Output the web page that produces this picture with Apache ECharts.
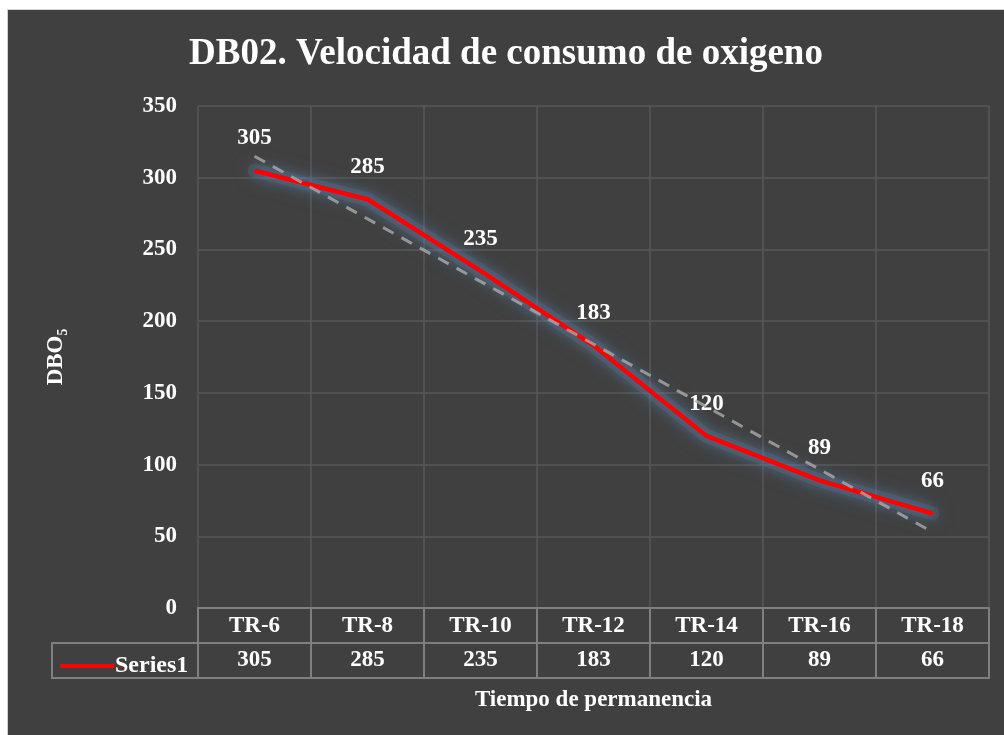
<!DOCTYPE html>
<html>
<head>
<meta charset="utf-8">
<script src="https://cdn.jsdelivr.net/npm/echarts@6/dist/echarts.min.js"></script>
<style>
html,body{margin:0;padding:0;background:#ffffff;width:1004px;height:735px;overflow:hidden;}
#wrap{position:absolute;left:7px;top:9px;width:997px;height:726px;border-left:1px solid #d0d0d0;border-top:1px solid #d0d0d0;box-sizing:border-box;}
#c{width:996px;height:725px;}
</style>
</head>
<body>
<div id="wrap"><div id="c"></div></div>
<script>
var categories = ['TR-6','TR-8','TR-10','TR-12','TR-14','TR-16','TR-18'];
var series1 = [305, 285, 235, 183, 120, 89, 66];
var trendEnds = [315, 53];
var yTicks = {min: 0, max: 350, interval: 50};

var FONT = "'Liberation Serif','Times New Roman',serif";
var FS = 23;
var GRID_COLOR = '#575757';
var TABLE_COLOR = '#7f7f7f';

var chart = echarts.init(document.getElementById('c'));
var option = {
  backgroundColor: '#404040',
  animation: false,
  title: {
    text: 'DB02. Velocidad de consumo de oxigeno',
    left: 'center',
    top: 21,
    textStyle: {color: '#ffffff', fontFamily: FONT, fontWeight: 'bold', fontSize: 37}
  },
  legend: {
    data: ['Series1'],
    left: 47,
    top: 639,
    icon: 'rect',
    itemWidth: 54,
    itemHeight: 4,
    itemGap: 0,
    textStyle: {color: '#ffffff', fontFamily: FONT, fontWeight: 'bold', fontSize: 24, padding: [0,0,0,-4]}
  },
  grid: {left: 190, right: 15, top: 96, bottom: 127, containLabel: false},
  xAxis: [
    {
      type: 'category', data: categories, boundaryGap: true, position: 'bottom',
      axisLine: {show: true, lineStyle: {color: TABLE_COLOR, width: 2}},
      axisTick: {show: true, length: 70, interval: 0, lineStyle: {color: TABLE_COLOR, width: 2}},
      axisLabel: {color: '#ffffff', fontFamily: FONT, fontWeight: 'bold', fontSize: FS, margin: 7, interval: 0},
      splitLine: {show: true, interval: 0, lineStyle: {color: GRID_COLOR, width: 1.5}}
    },
    {
      type: 'category', data: series1.map(String), boundaryGap: true, position: 'bottom', offset: 35,
      axisLine: {show: true, lineStyle: {color: TABLE_COLOR, width: 2}},
      axisTick: {show: false},
      axisLabel: {color: '#ffffff', fontFamily: FONT, fontWeight: 'bold', fontSize: FS, margin: 6, interval: 0},
      splitLine: {show: false}
    },
    {
      type: 'category', data: categories, boundaryGap: true, position: 'bottom', offset: 70,
      axisLine: {show: true, lineStyle: {color: TABLE_COLOR, width: 2}},
      axisTick: {show: false},
      axisLabel: {show: false},
      splitLine: {show: false},
      name: 'Tiempo de permanencia',
      nameLocation: 'middle',
      nameGap: 11,
      nameTextStyle: {color: '#ffffff', fontFamily: FONT, fontWeight: 'bold', fontSize: FS}
    }
  ],
  yAxis: {
    type: 'value', min: yTicks.min, max: yTicks.max, interval: yTicks.interval,
    axisLine: {show: false}, axisTick: {show: false},
    axisLabel: {color: '#ffffff', fontFamily: FONT, fontWeight: 'bold', fontSize: FS, margin: 21},
    splitLine: {show: true, lineStyle: {color: GRID_COLOR, width: 1.5}},
    name: 'DBO₅',
    nameLocation: 'middle',
    nameRotate: 90,
    nameGap: 130,
    nameTextStyle: {color: '#ffffff', fontFamily: FONT, fontWeight: 'bold', fontSize: FS}
  },
  series: [
    {
      name: 'glow', type: 'line', data: series1, xAxisIndex: 0,
      symbol: 'none', z: 2, silent: true, tooltip: {show: false},
      lineStyle: {color: 'rgba(85,120,155,0.22)', width: 14, cap: 'round', join: 'round',
                  shadowBlur: 20, shadowColor: 'rgba(95,135,175,0.8)'}
    },
    {
      name: 'Series1', type: 'line', data: series1, xAxisIndex: 0,
      symbol: 'circle', symbolSize: 1, showSymbol: true, smooth: false, z: 3,
      lineStyle: {color: '#ff0000', width: 4.5, shadowBlur: 14, shadowColor: 'rgba(110,165,225,0.8)'},
      itemStyle: {color: '#ff0000'},
      label: {show: true, position: 'top', distance: 20, color: '#ffffff', fontFamily: FONT, fontWeight: 'bold', fontSize: FS}
    },
    {
      name: 'Trend', type: 'line', xAxisIndex: 0,
      data: [[0, trendEnds[0]], [categories.length - 1, trendEnds[1]]],
      symbol: 'none', z: 4, silent: true,
      lineStyle: {color: 'rgba(170,170,170,0.8)', width: 3, type: [12, 9]}
    }
  ],
  graphic: [
    {type: 'rect', shape: {x: 44, y: 633, width: 146, height: 35}, style: {fill: 'none', stroke: TABLE_COLOR, lineWidth: 2}, silent: true}
  ]
};
chart.setOption(option);
</script>
</body>
</html>
